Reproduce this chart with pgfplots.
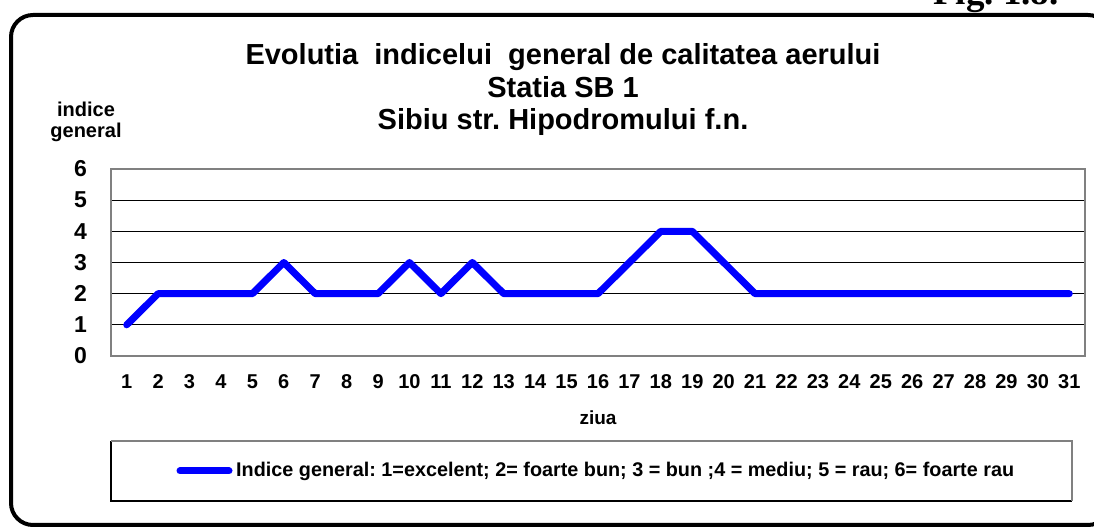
\documentclass[border=0pt]{standalone}
\usepackage{fontspec}
\setmainfont{Liberation Sans}
\newfontfamily\figfont{Liberation Serif}
\usepackage{pgfplots}
\pgfplotsset{compat=1.18}
\frenchspacing

\begin{document}
\begin{tikzpicture}[x=1pt,y=1pt]
\useasboundingbox (0,0) rectangle (1094,529);
% outer frame and figure number (cut by the page edge)
\begin{scope}
\clip (0,0) rectangle (1094,529);
\draw[rounded corners=22pt, line width=4pt] (11,4) rectangle (1110,514);
\node[anchor=base west, inner sep=0, font=\figfont\bfseries\fontsize{37}{40}\selectfont] at (933,524) {Fig. 1.8.};
\end{scope}

% title
\begin{scope}[font=\bfseries\fontsize{29}{32}\selectfont]
\node[anchor=base] at (563,464) {Evolutia\ \ indicelui\ \ general de calitatea aerului};
\node[anchor=base] at (563,431) {Statia SB 1};
\node[anchor=base] at (563,399) {Sibiu str. Hipodromului f.n.};
\end{scope}
\node[anchor=base, font=\bfseries\fontsize{20}{24}\selectfont] at (86,412) {indice};
\node[anchor=base, font=\bfseries\fontsize{20}{24}\selectfont] at (86,391) {general};

\begin{axis}[
    at={(111pt,173pt)}, anchor=south west,
    scale only axis, width=974pt, height=187pt,
    xmin=0.5, xmax=31.5, ymin=0, ymax=6,
    xtick={1,...,31}, ytick={0,...,6},
    major tick length=0pt,
    ymajorgrids, grid style={black, line width=1pt},
    axis line style={gray, line width=2.5pt},
    /pgf/number format/assume math mode=true,
    yticklabel style={font=\bfseries\fontsize{23}{26}\selectfont, anchor=east, inner sep=0pt, xshift=-24pt},
    xticklabel style={font=\bfseries\fontsize{20}{22}\selectfont, anchor=base, inner sep=0pt, yshift=-33pt},
]
\addplot[blue, line width=7pt, line cap=round, line join=round] coordinates {
(1,1) (2,2) (3,2) (4,2) (5,2) (6,3) (7,2) (8,2) (9,2) (10,3) (11,2)
(12,3) (13,2) (14,2) (15,2) (16,2) (17,3) (18,4) (19,4) (20,3) (21,2)
(22,2) (23,2) (24,2) (25,2) (26,2) (27,2) (28,2) (29,2) (30,2) (31,2)};
\end{axis}

\node[font=\bfseries\fontsize{19}{22}\selectfont] at (598,111) {ziua};

% legend box
\draw[black, line width=1.5pt] (111,88) -- (111,28) -- (1072,28);
\draw[gray, line width=1.5pt] (111,88) -- (1072,88) -- (1072,28);
\draw[blue, line width=7pt, line cap=round] (180,58) -- (229,58);
\node[anchor=west, inner sep=0, font=\bfseries\fontsize{19.8}{22}\selectfont] at (236,58)
  {Indice general: 1=excelent; 2= foarte bun; 3 = bun ;4 = mediu; 5 = rau; 6= foarte rau};
\end{tikzpicture}
\end{document}
